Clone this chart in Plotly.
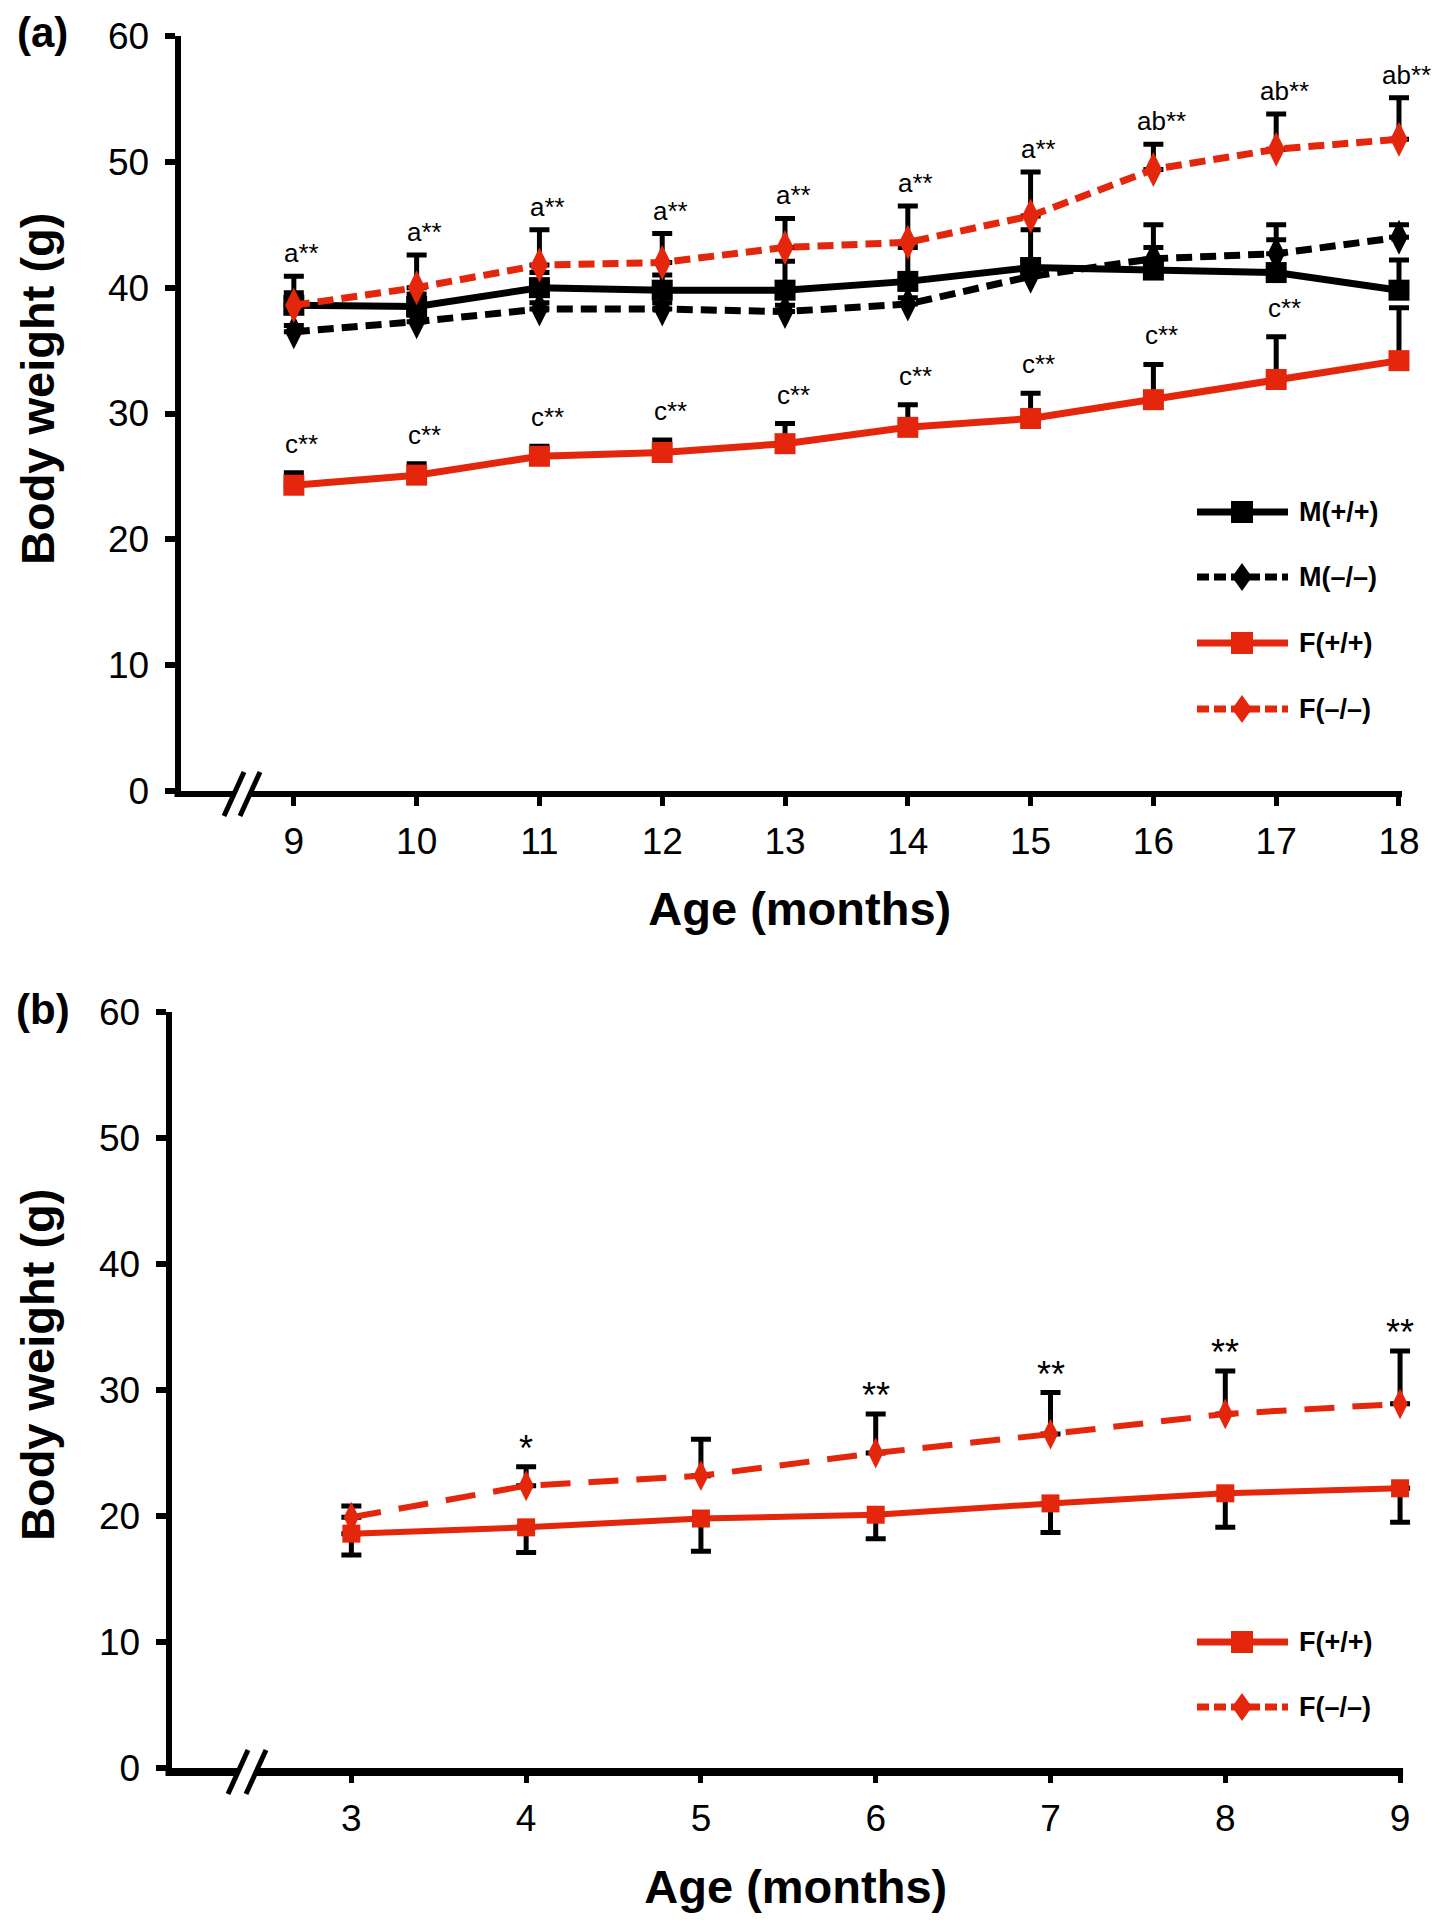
import plotly.graph_objects as go

# reference canvas is 1442x1920; the page body has an 8px margin, so the figure is
# 1434x1912 and all pixel positions below are given in reference-page coordinates.
OFF = 8
FW, FH = 1442 - OFF, 1920 - OFF
RED = "#E3260C"
BLACK = "#000000"
FONT = "Liberation Sans, Arial, sans-serif"

# ---------------- Data: panel (a) ----------------
months_a = [9, 10, 11, 12, 13, 14, 15, 16, 17, 18]
m_wt = [38.6, 38.5, 40.0, 39.8, 39.8, 40.5, 41.6, 41.4, 41.2, 39.8]
m_wt_err = [1.0, 1.0, 1.2, 1.2, 2.3, 2.7, 3.0, 3.6, 3.8, 2.4]
m_ko = [36.5, 37.3, 38.3, 38.3, 38.1, 38.7, 40.9, 42.3, 42.7, 44.0]
m_ko_err = [0.5, 0.5, 0.5, 0.5, 0.5, 0.5, 0.6, 0.9, 1.1, 1.0]
f_wt = [24.3, 25.1, 26.6, 26.9, 27.6, 28.9, 29.6, 31.1, 32.7, 34.2]
f_wt_err = [1.0, 0.9, 0.8, 1.0, 1.6, 1.8, 2.0, 2.8, 3.4, 4.2]
f_ko = [38.6, 40.0, 41.8, 42.0, 43.2, 43.6, 45.7, 49.4, 51.0, 51.8]
f_ko_err = [2.3, 2.6, 2.8, 2.3, 2.3, 2.9, 3.5, 2.0, 2.8, 3.3]
sig_ko_a = ["a**", "a**", "a**", "a**", "a**", "a**", "a**", "ab**", "ab**", "ab**"]
sig_wt_a = ["c**", "c**", "c**", "c**", "c**", "c**", "c**", "c**", "c**", ""]

# ---------------- Data: panel (b) ----------------
months_b = [3, 4, 5, 6, 7, 8, 9]
fb_wt = [18.6, 19.1, 19.8, 20.1, 21.0, 21.8, 22.2]
fb_wt_err = [1.7, 2.0, 2.6, 1.9, 2.3, 2.7, 2.7]
fb_ko = [19.9, 22.4, 23.2, 25.0, 26.5, 28.1, 28.9]
fb_ko_err = [0.9, 1.5, 2.9, 3.1, 3.3, 3.4, 4.2]
sig_b = ["", "*", "", "**", "**", "**", "**"]

y_ticks = [0, 10, 20, 30, 40, 50, 60]


def px(x):
    return (x - OFF) / FW


def py(y):
    return 1 - (y - OFF) / FH


# axis geometry (pixels) for the two panels
A_LEFT, A_RIGHT, A_TOP, A_BOT = 180.5, 1419, 36, 791
A_RANGE = [8.077, 18.163]
B_LEFT, B_RIGHT, B_TOP, B_BOT = 171.5, 1420, 1012, 1768
B_RANGE = [1.971, 9.114]


def xpix(v, left, right, rng):
    return left + (v - rng[0]) / (rng[1] - rng[0]) * (right - left)


def errbar(up, down):
    return dict(type="data", symmetric=False, array=up, arrayminus=down,
                color=BLACK, thickness=5, width=10, visible=True)


zeros_a = [0] * len(months_a)
zeros_b = [0] * len(months_b)

fig = go.Figure()

# panel (a) traces
fig.add_trace(go.Scatter(x=months_a, y=m_wt, mode="lines+markers", name="M(+/+)",
                         line=dict(color=BLACK, width=7),
                         marker=dict(symbol="square", size=21, color=BLACK),
                         error_y=errbar(m_wt_err, zeros_a), cliponaxis=False,
                         xaxis="x", yaxis="y", showlegend=False))
fig.add_trace(go.Scatter(x=months_a, y=m_ko, mode="lines+markers", name="M(–/–)",
                         line=dict(color=BLACK, width=7, dash="16px,8px"),
                         marker=dict(symbol="diamond-tall", size=25, color=BLACK),
                         error_y=errbar(m_ko_err, zeros_a), cliponaxis=False,
                         xaxis="x", yaxis="y", showlegend=False))
fig.add_trace(go.Scatter(x=months_a, y=f_wt, mode="lines+markers", name="F(+/+)",
                         line=dict(color=RED, width=7),
                         marker=dict(symbol="square", size=21, color=RED),
                         error_y=errbar(f_wt_err, zeros_a), cliponaxis=False,
                         xaxis="x", yaxis="y", showlegend=False))
fig.add_trace(go.Scatter(x=months_a, y=f_ko, mode="lines+markers", name="F(–/–)",
                         line=dict(color=RED, width=7, dash="16px,8px"),
                         marker=dict(symbol="diamond-tall", size=25, color=RED),
                         error_y=errbar(f_ko_err, zeros_a), cliponaxis=False,
                         xaxis="x", yaxis="y", showlegend=False))

# panel (b) traces
fig.add_trace(go.Scatter(x=months_b, y=fb_wt, mode="lines+markers", name="F(+/+)",
                         line=dict(color=RED, width=6),
                         marker=dict(symbol="square", size=18, color=RED),
                         error_y=errbar(zeros_b, fb_wt_err), cliponaxis=False,
                         xaxis="x2", yaxis="y2", showlegend=False))
fig.add_trace(go.Scatter(x=months_b, y=fb_ko, mode="lines+markers", name="F(–/–)",
                         line=dict(color=RED, width=6, dash="30px,18px"),
                         marker=dict(symbol="diamond-tall", size=22, color=RED),
                         error_y=errbar(fb_ko_err, zeros_b), cliponaxis=False,
                         xaxis="x2", yaxis="y2", showlegend=False))

annotations = []
# significance labels panel (a)
for m, v, e, s in zip(months_a, f_ko, f_ko_err, sig_ko_a):
    if s:
        annotations.append(dict(x=m, y=v + e, xref="x", yref="y", text=s,
                                showarrow=False, xanchor="center", yanchor="bottom",
                                xshift=8, yshift=6, font=dict(family=FONT, size=26, color=BLACK)))
for m, v, e, s in zip(months_a, f_wt, f_wt_err, sig_wt_a):
    if s:
        annotations.append(dict(x=m, y=v + e, xref="x", yref="y", text=s,
                                showarrow=False, xanchor="center", yanchor="bottom",
                                xshift=8, yshift=12, font=dict(family=FONT, size=26, color=BLACK)))
# significance labels panel (b)
for m, v, e, s in zip(months_b, fb_ko, fb_ko_err, sig_b):
    if s:
        annotations.append(dict(x=m, y=v + e, xref="x2", yref="y2", text=s,
                                showarrow=False, xanchor="center", yanchor="bottom",
                                yshift=-4, font=dict(family=FONT, size=36, color=BLACK)))


def paper_text(x, y, text, size, angle=0, xanchor="center"):
    annotations.append(dict(x=px(x), y=py(y), xref="paper", yref="paper", text=text,
                            textangle=angle, showarrow=False, xanchor=xanchor, yanchor="middle",
                            font=dict(family=FONT, size=size, color=BLACK)))


# panel labels and y-axis titles
paper_text(42, 33, "<b>(a)</b>", 42)
paper_text(43, 1010, "<b>(b)</b>", 42)
paper_text(37, 389, "<b>Body weight (g)</b>", 47, angle=-90)
paper_text(37, 1365, "<b>Body weight (g)</b>", 47, angle=-90)

shapes = []

# x-axis lines ending exactly at the last month
shapes.append(dict(type="line", xref="paper", yref="paper",
                   x0=px(A_LEFT - 6), x1=px(xpix(months_a[-1], A_LEFT, A_RIGHT, A_RANGE) + 3),
                   y0=py(A_BOT + 3), y1=py(A_BOT + 3), line=dict(color=BLACK, width=6)))
shapes.append(dict(type="line", xref="paper", yref="paper",
                   x0=px(B_LEFT - 6), x1=px(xpix(months_b[-1], B_LEFT, B_RIGHT, B_RANGE) + 3),
                   y0=py(B_BOT + 4), y1=py(B_BOT + 4), line=dict(color=BLACK, width=8)))


# manual legends
def legend_row(yc, color, dashed, symbol, label):
    x0, x1, xm = 1197, 1288, 1242
    shapes.append(dict(type="line", xref="paper", yref="paper", x0=px(x0), x1=px(x1), y0=py(yc), y1=py(yc),
                       line=dict(color=color, width=7, dash="12px,5px" if dashed else "solid")))
    if symbol == "square":
        shapes.append(dict(type="rect", xref="paper", yref="paper", x0=px(xm - 11), x1=px(xm + 11),
                           y0=py(yc - 11), y1=py(yc + 11), fillcolor=color, line=dict(width=0)))
    else:
        path = "M {a},{b} L {c},{d} L {a},{e} L {f},{d} Z".format(
            a=px(xm), b=py(yc - 14), c=px(xm + 10), d=py(yc), e=py(yc + 14), f=px(xm - 10))
        shapes.append(dict(type="path", xref="paper", yref="paper", path=path, fillcolor=color,
                           line=dict(width=0)))
    paper_text(1297, yc, "<b>" + label + "</b>", 27, xanchor="left")


legend_row(512, BLACK, False, "square", "M(+/+)")
legend_row(577, BLACK, True, "diamond", "M(–/–)")
legend_row(643, RED, False, "square", "F(+/+)")
legend_row(709, RED, True, "diamond", "F(–/–)")
legend_row(1642, RED, False, "square", "F(+/+)")
legend_row(1707, RED, True, "diamond", "F(–/–)")


# axis break marks
def axis_break(xc1, xc2, yc):
    quad = "M {a},{b} L {c},{d} L {e},{d} L {f},{b} Z".format(
        a=px(xc1 - 10), b=py(yc + 22), c=px(xc1 + 10), d=py(yc - 22), e=px(xc2 + 10), f=px(xc2 - 10))
    shapes.append(dict(type="path", xref="paper", yref="paper", path=quad, fillcolor="white",
                       line=dict(width=0), layer="above"))
    for xc in (xc1, xc2):
        shapes.append(dict(type="line", xref="paper", yref="paper", x0=px(xc - 10), y0=py(yc + 22),
                           x1=px(xc + 10), y1=py(yc - 22), line=dict(color=BLACK, width=5), layer="above"))


axis_break(234, 250, A_BOT + 3)
axis_break(238, 256, B_BOT + 4)

tickfont = dict(family=FONT, size=37, color=BLACK)
titlefont = dict(family=FONT, size=47, color=BLACK)

common_x = dict(tickmode="array", showgrid=False, zeroline=False, showline=False, automargin=False,
                ticks="outside", ticklen=14, tickwidth=5, tickcolor=BLACK, tickfont=tickfont,
                ticklabelstandoff=4)
common_y = dict(range=[0, 60], tickmode="array", tickvals=y_ticks, showgrid=False, zeroline=False,
                showline=True, linecolor=BLACK, linewidth=6, automargin=False,
                ticks="outside", ticklen=10, tickwidth=6, tickcolor=BLACK, tickfont=tickfont,
                ticklabelstandoff=8)

fig.update_layout(
    width=FW, height=FH,
    margin=dict(l=0, r=0, t=0, b=0, autoexpand=False),
    paper_bgcolor="white", plot_bgcolor="white",
    font=dict(family=FONT, color=BLACK),
    annotations=annotations,
    shapes=shapes,
    xaxis=dict(domain=[px(A_LEFT), px(A_RIGHT)], range=A_RANGE, tickvals=months_a,
               title=dict(text="<b>Age (months)</b>", font=titlefont, standoff=30),
               anchor="y", **common_x),
    yaxis=dict(domain=[py(A_BOT), py(A_TOP)], anchor="x", **common_y),
    xaxis2=dict(domain=[px(B_LEFT), px(B_RIGHT)], range=B_RANGE, tickvals=months_b,
                title=dict(text="<b>Age (months)</b>", font=titlefont, standoff=31),
                anchor="y2", **common_x),
    yaxis2=dict(domain=[py(B_BOT), py(B_TOP)], anchor="x2", **common_y),
)

fig.write_html("out.html")
